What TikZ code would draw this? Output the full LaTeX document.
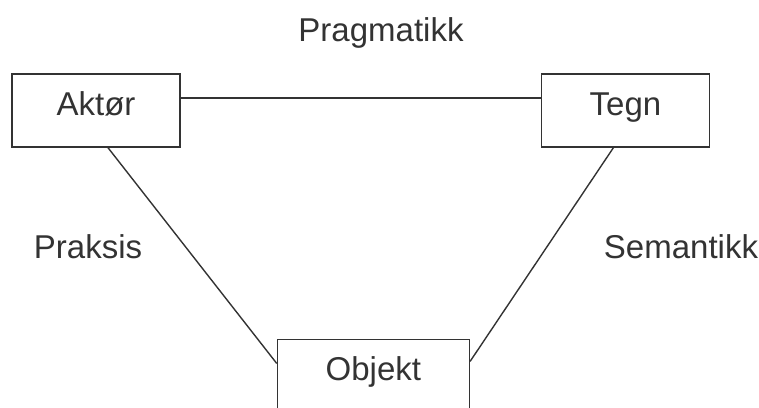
\documentclass[tikz,border=0pt]{standalone}
\usepackage{fontspec}
\setmainfont{Liberation Sans}
\usetikzlibrary{positioning}
\definecolor{ink}{HTML}{333333}

\begin{document}
\begin{tikzpicture}[x=1pt, y=-1pt,
  boxnode/.style={rectangle, draw=ink, line width=1.4pt, minimum width=168pt, minimum height=73pt, inner sep=0pt, text height=23pt, text depth=14pt, text=ink, font=\fontsize{33}{39}\selectfont},
  labelnode/.style={text=ink, anchor=base, inner sep=0pt, font=\fontsize{33}{39}\selectfont}]
\useasboundingbox (0,0) rectangle (759,407);
\node (aktor) [boxnode] at (96,110.5) {Aktør};
\node (tegn) [boxnode, right=360pt of aktor] {Tegn};
\node (objekt) [boxnode, minimum width=192pt, below right=191pt and 96pt of aktor] {Objekt};
\node (prag) [labelnode] at (381,41.7) {Pragmatikk};
\node (praks) [labelnode] at (88,258) {Praksis};
\node (sem) [labelnode] at (681,258) {Semantikk};
\draw [ink, line width=1.4pt] ([yshift=12.5pt]aktor.east) -- ([yshift=12.5pt]tegn.west);
\draw [ink, line width=1.4pt] ([xshift=12pt]aktor.south) -- ([yshift=12.5pt]objekt.west);
\draw [ink, line width=1.4pt] ([xshift=-12pt]tegn.south) -- ([yshift=14.5pt]objekt.east);

\end{tikzpicture}
\end{document}
